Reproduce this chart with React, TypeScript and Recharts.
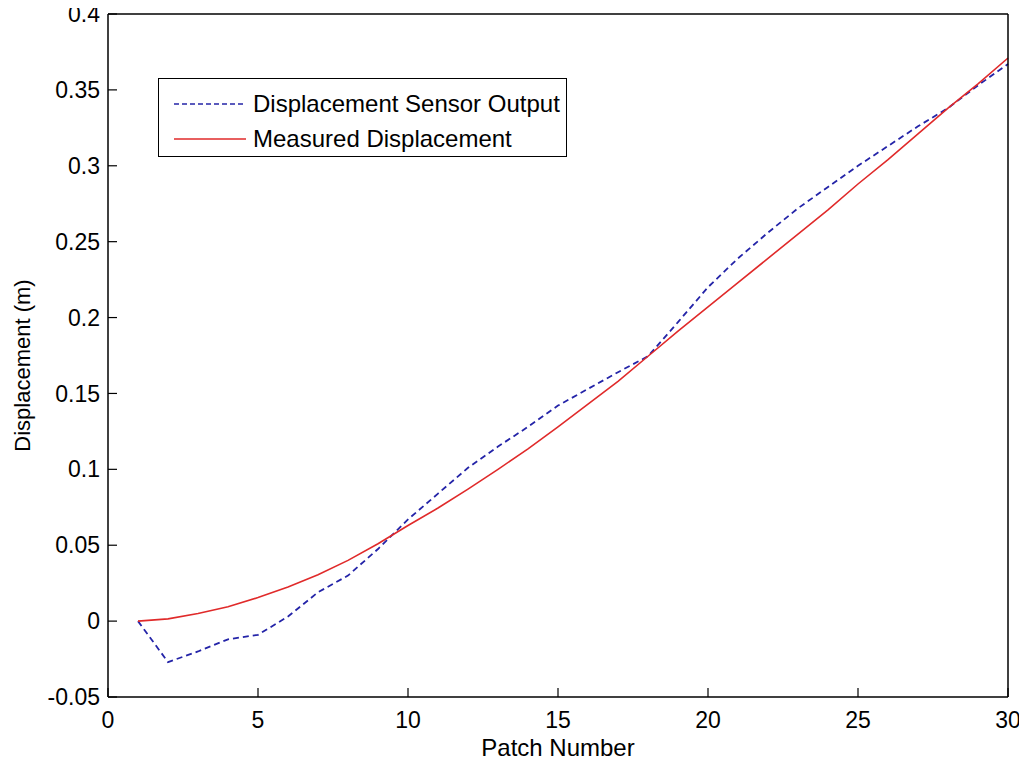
import React from 'react';
import { LineChart, Line, XAxis, YAxis, Legend } from 'recharts';

const patchNumbers = [1, 2, 3, 4, 5, 6, 7, 8, 9, 10, 11, 12, 13, 14, 15, 16, 17, 18, 19, 20, 21, 22, 23, 24, 25, 26, 27, 28, 29, 30];
const sensorOutput = [0, -0.027, -0.02, -0.012, -0.009, 0.003, 0.019, 0.03, 0.0475, 0.067, 0.084, 0.101, 0.115, 0.128, 0.142, 0.153, 0.164, 0.1745, 0.197, 0.22, 0.239, 0.256, 0.272, 0.286, 0.3, 0.313, 0.326, 0.338, 0.353, 0.367];
const measuredDisplacement = [0, 0.0015, 0.005, 0.0095, 0.0155, 0.0225, 0.0305, 0.04, 0.051, 0.063, 0.0745, 0.087, 0.1, 0.1135, 0.128, 0.143, 0.158, 0.1745, 0.191, 0.207, 0.223, 0.239, 0.255, 0.271, 0.288, 0.304, 0.321, 0.338, 0.354, 0.371];
const xTicks = [0, 5, 10, 15, 20, 25, 30];
const yTicks = [-0.05, 0, 0.05, 0.1, 0.15, 0.2, 0.25, 0.3, 0.35, 0.4];

const data = patchNumbers.map((p, i) => ({
  patch: p,
  sensor: sensorOutput[i],
  measured: measuredDisplacement[i],
}));

const FONT = "Arial, 'Liberation Sans', Helvetica, sans-serif";
const FS = 23;

const YLabel = (props: any) => {
  const vb = props.viewBox || {};
  const x = (vb.x || 0) + 30;
  const y = (vb.y || 0) + (vb.height || 0) / 2 + 10;
  return (
    <text x={x} y={y} transform={`rotate(-90, ${x}, ${y})`} textAnchor="middle" fontSize={22} fontFamily={FONT} fill="#000">
      Displacement (m)
    </text>
  );
};

const XLabel = (props: any) => {
  const vb = props.viewBox || {};
  const x = (vb.x || 0) + (vb.width || 0) / 2;
  const y = (vb.y || 0) + (vb.height || 0) - 9;
  return (
    <text x={x} y={y} textAnchor="middle" fontSize={24} fontFamily={FONT} fill="#000">
      Patch Number
    </text>
  );
};

const LegendBox = (props: any) => {
  const payload = props.payload || [];
  const rows = [25, 60];
  return (
    <div style={{ width: 409, height: 79, border: '1.5px solid #000', background: '#fff', boxSizing: 'border-box' }}>
      <svg width={406} height={76} style={{ display: 'block' }}>
        {payload.map((item: any, i: number) => (
          <g key={i}>
            <line
              x1={15}
              x2={87}
              y1={rows[i]}
              y2={rows[i]}
              stroke={item.color}
              strokeWidth={1.5}
              strokeDasharray={item.payload && item.payload.strokeDasharray ? '5 3' : undefined}
            />
            <text x={94} y={rows[i] + 8} fontSize={24} fontFamily={FONT} fill="#000">
              {item.value}
            </text>
          </g>
        ))}
      </svg>
    </div>
  );
};

export default function App() {
  return (
    <div style={{ margin: '-8px 0 0 -8px', width: 1027, height: 765 }}>
      <LineChart width={1027} height={765} data={data} margin={{ top: 13, right: 18, bottom: 0, left: 0 }}>
        <XAxis
          xAxisId="bottom"
          dataKey="patch"
          type="number"
          domain={[0, 30]}
          ticks={xTicks}
          orientation="bottom"
          height={68}
          tickSize={-9}
          tickMargin={24}
          axisLine={{ stroke: '#000', strokeWidth: 1.5 }}
          tickLine={{ stroke: '#000', strokeWidth: 1.2 }}
          tick={{ fill: '#000', fontSize: FS, fontFamily: FONT }}
          label={<XLabel />}
          interval={0}
        />
        <XAxis
          xAxisId="top"
          dataKey="patch"
          type="number"
          domain={[0, 30]}
          ticks={xTicks}
          orientation="top"
          height={1}
          tickSize={-9}
          axisLine={{ stroke: '#000', strokeWidth: 1.5 }}
          tickLine={{ stroke: '#000', strokeWidth: 1.2 }}
          tick={false}
          interval={0}
        />
        <YAxis
          yAxisId="left"
          type="number"
          domain={[-0.05, 0.4]}
          ticks={yTicks}
          orientation="left"
          width={108}
          tickSize={-9}
          tickMargin={17}
          axisLine={{ stroke: '#000', strokeWidth: 1.5 }}
          tickLine={{ stroke: '#000', strokeWidth: 1.2 }}
          tick={{ fill: '#000', fontSize: FS, fontFamily: FONT }}
          tickFormatter={(v: number) => String(v)}
          label={<YLabel />}
          interval={0}
        />
        <YAxis
          yAxisId="right"
          type="number"
          domain={[-0.05, 0.4]}
          ticks={yTicks}
          orientation="right"
          width={1}
          tickSize={-9}
          axisLine={{ stroke: '#000', strokeWidth: 1.5 }}
          tickLine={{ stroke: '#000', strokeWidth: 1.2 }}
          tick={false}
          interval={0}
        />
        <Legend
          layout="vertical"
          align="center"
          verticalAlign="middle"
          content={<LegendBox />}
          wrapperStyle={{ left: 158, top: 78, right: 'auto', bottom: 'auto', width: 409, height: 79 }}
        />
        <Line
          xAxisId="bottom"
          yAxisId="left"
          type="linear"
          dataKey="sensor"
          name="Displacement Sensor Output"
          stroke="#2424a8"
          strokeWidth={1.8}
          strokeDasharray="6 4"
          dot={false}
          activeDot={false}
          isAnimationActive={false}
        />
        <Line
          xAxisId="bottom"
          yAxisId="left"
          type="linear"
          dataKey="measured"
          name="Measured Displacement"
          stroke="#e02a2a"
          strokeWidth={1.6}
          dot={false}
          activeDot={false}
          isAnimationActive={false}
        />
      </LineChart>
    </div>
  );
}
